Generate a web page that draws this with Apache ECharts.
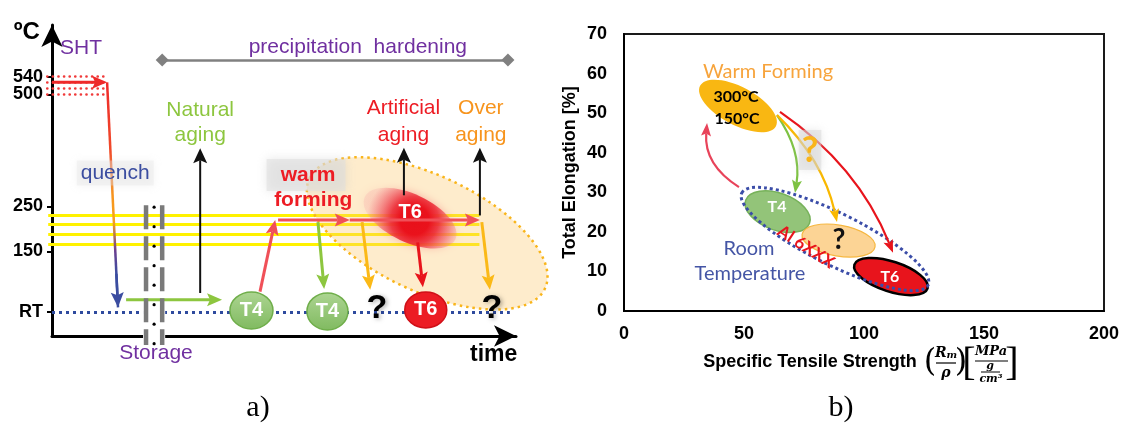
<!DOCTYPE html>
<html>
<head>
<meta charset="utf-8">
<script src="https://cdn.jsdelivr.net/npm/echarts@6.0.0/dist/echarts.min.js"></script>
<style>
html,body{margin:0;padding:0;background:#ffffff;}
#chart{width:1125px;height:425px;}
</style>
</head>
<body>
<div id="chart"></div>
<script>
/* ===================== DATA ===================== */
/* Panel a): schematic heat-treatment route. x = time (arbitrary units), y = temperature (°C) */
const tempTickValues = [15, 150, 250, 500, 540];
const tempTickLabels = ['RT', '150', '250', '500', '540'];
const timeRange = [0, 97.7];
const tempRange = [-39, 655];
const rtTemp = 15;
const rtTime = [0, 96.4];
const shtRows = [540, 527, 513, 500];
const shtTime = [-1, 11.6];
const agingTemps = [165, 188, 210, 231];
const agingTime = [-0.8, 90];
const hardeningTime = [23.2, 96];
const hardeningTemp = 577;
const quenchPath = [11.6, 527, 13.9, 25];
const storageTime = [19.8, 23.2];
const storageTemp = [253, -59];

const leftArrows = [
  {kind: 'sht',     from: [0, 527],     to: [11.6, 527]},
  {kind: 'quench',  from: [13.55, 100], to: [13.9, 25]},
  {kind: 'green',   from: [15.6, 42],   to: [35.8, 42]},
  {kind: 'black',   from: [31.2, 57],   to: [31.2, 380]},
  {kind: 'red',     from: [43.8, 60],   to: [47, 220]},
  {kind: 'red',     from: [47.6, 220],  to: [62.7, 220]},
  {kind: 'red',     from: [62.7, 220],  to: [90.1, 220]},
  {kind: 'green',   from: [56, 215],    to: [57.3, 66]},
  {kind: 'orange',  from: [65.3, 215],  to: [67, 64]},
  {kind: 'deepRed', from: [77, 170],    to: [78.1, 70]},
  {kind: 'orange',  from: [90.5, 215],  to: [92.2, 64]},
  {kind: 'black',   from: [74.1, 275],  to: [74.1, 381]},
  {kind: 'black',   from: [90.1, 230],  to: [90.1, 381]}
];

const leftBackShapes = [
  {name: 'warmWindow', center: [79, 190], axis: [24.8, -123]},
  {name: 't6Blur',     center: [75.4, 224], axis: [9.54, -47.1]}
];
const leftFrontShapes = [
  {name: 't4', center: [42, 18],   axis: [4.53, 0]},
  {name: 't4', center: [58, 15.8], axis: [4.32, 0]},
  {name: 't6', center: [78.7, 19.2], axis: [4.42, 0]}
];

const leftLabels = [
  {text: 'ºC', at: [-5.3, 639], style: 'axisName'},
  {text: 'SHT', at: [6.1, 603.5], style: 'purple'},
  {text: 'precipitation  hardening', at: [64.4, 605.5], style: 'purple'},
  {text: 'Natural', at: [31.2, 465], style: 'green'},
  {text: 'aging', at: [31.2, 409], style: 'green'},
  {text: 'Artificial', at: [74, 469.4], style: 'red'},
  {text: 'aging', at: [74, 409], style: 'red'},
  {text: 'Over', at: [90.3, 469.4], style: 'orange'},
  {text: 'aging', at: [90.3, 409], style: 'orange'},
  {text: 'quench', at: [13.3, 324.5], style: 'blue'},
  {text: 'warm', at: [53.5, 320], style: 'warmBox'},
  {text: 'forming', at: [55, 264.4], style: 'warm'},
  {text: 'T6', at: [75.4, 237], style: 'white'},
  {text: 'T4', at: [42, 18], style: 'white'},
  {text: 'T4', at: [58, 15.8], style: 'white'},
  {text: 'T6', at: [78.7, 19.2], style: 'white'},
  {text: '?', at: [68.4, 21], style: 'question'},
  {text: '?', at: [92.6, 21], style: 'question'},
  {text: 'Storage', at: [21.9, -76.5], style: 'purple'},
  {text: 'time', at: [93, -81], style: 'timeName'}
];

/* Panel b): total elongation vs specific tensile strength */
const strengthRange = [0, 200];
const strengthStep = 50;
const elongationRange = [0, 70];
const elongationStep = 10;

const rightShapes = [
  {name: 'warmForming', center: [47.5, 51.8],  axis: [15.8, -5.1]},
  {name: 't4',          center: [64, 25.1],    axis: [13.3, -2.9]},
  {name: 'unknown',     center: [89.4, 17.8],  axis: [15.2, -1.6]},
  {name: 't6',          center: [111.25, 8.7], axis: [15.25, -3.0]},
  {name: 'al6xxx',      center: [87.9, 18.2],  axis: [38.8, -11.65]}
];
const rightArrows = [
  {kind: 'pink',   from: [47.9, 31.3],  to: [34.6, 47.5]},
  {kind: 'green',  from: [63.75, 49.5], to: [71.25, 29.8]},
  {kind: 'orange', from: [63.75, 49.5], to: [88.75, 22.5]},
  {kind: 'red',    from: [65, 50.3],    to: [112.1, 14.7]}
];
const rightLabels = [
  {text: 'Warm Forming', at: [60, 60.4], style: 'warmLabel'},
  {text: '300°C', at: [46.7, 54.1], style: 'tempLabel'},
  {text: '150°C', at: [47.1, 48.5], style: 'tempLabel'},
  {text: 'T4', at: [63.75, 26.3], style: 'tag'},
  {text: '?', at: [89.6, 17.9], style: 'q'},
  {text: 'T6', at: [110.8, 8.6], style: 'tag'},
  {text: 'Room', at: [52.1, 15.9], style: 'room'},
  {text: 'Temperature', at: [52.5, 9.4], style: 'room'},
  {text: 'Al 6XXX', at: [75.8, 16.2], style: 'alloy'},
  {text: '?', at: [77.5, 40.7], style: 'qOrange'}
];

/* ===================== STYLES ===================== */
const SANS = '"Liberation Sans", Arial, sans-serif';
const CAL = 'Lato, "Liberation Sans", sans-serif';
const G = echarts.graphic;

const leftArrowStyles = {
  sht:     {color: '#ee2a2a', width: 3,   head: [13, 15]},
  quench:  {color: '#3b4da0', width: 2.5, head: [13, 15]},
  green:   {color: '#8dc63f', width: 3,   head: [13, 15]},
  black:   {color: '#111111', width: 2,   head: [14, 15]},
  red:     {color: '#f05058', width: 3,   head: [13, 15]},
  orange:  {color: '#fbb917', width: 3,   head: [13, 15]},
  deepRed: {color: '#e8141c', width: 3,   head: [13, 15]}
};
const rightArrowStyles = {
  pink:   {color: '#e8435a', width: 2.2, head: [10, 13], bend: 0.3},
  green:  {color: '#7dc242', width: 2.2, head: [10, 13], bend: 0.2},
  orange: {color: '#f9b800', width: 2.2, head: [10, 13], bend: 0.15},
  red:    {color: '#e8141c', width: 2.2, head: [10, 13], bend: 0.15}
};
const leftShapeStyles = {
  warmWindow: {ry: 58, style: {fill: 'rgba(251,200,110,0.35)', stroke: '#f9b51b', lineWidth: 2.5, lineDash: [2.5, 4]}},
  t6Blur: {ry: 24, style: {
    fill: new G.RadialGradient(0.55, 0.5, 1, [
      {offset: 0, color: '#e8101a'}, {offset: 0.3, color: '#ea121c'},
      {offset: 0.5, color: 'rgba(236,40,52,0.85)'}, {offset: 1, color: 'rgba(245,150,160,0.2)'}]),
    shadowBlur: 10, shadowColor: 'rgba(240,80,90,0.5)'}},
  t4: {ry: 18.5, style: {
    fill: new G.LinearGradient(0, 0, 0, 1, [{offset: 0, color: '#add592'}, {offset: 1, color: '#80ba60'}]),
    stroke: '#6fae4a', lineWidth: 1.5}},
  t6: {ry: 18, style: {fill: '#ec1c24', stroke: '#d01018', lineWidth: 1.5}}
};
const rightShapeStyles = {
  warmForming: {ry: 19, style: {fill: '#f9b712'}},
  t4: {ry: 18.5, style: {fill: 'rgba(128,186,98,0.85)', stroke: '#77b25a', lineWidth: 1.5}},
  unknown: {ry: 15.5, style: {fill: 'rgba(251,205,130,0.85)', stroke: '#f6b740', lineWidth: 1.2}},
  t6: {ry: 15, style: {fill: '#e8141c', stroke: '#000000', lineWidth: 2.5}},
  al6xxx: {ry: 26, style: {fill: 'none', stroke: '#3b4da8', lineWidth: 3, lineDash: [3, 3]}}
};
const leftTextStyles = {
  axisName: {text: {font: 'bold 24px ' + SANS, fill: '#000'}},
  timeName: {text: {font: 'bold 23px ' + SANS, fill: '#000'}},
  purple: {text: {font: '21px ' + SANS, fill: '#7030a0'}},
  green: {text: {font: '21px ' + SANS, fill: '#8dc63f'}},
  red: {text: {font: '21px ' + SANS, fill: '#ed1c24'}},
  orange: {text: {font: '21px ' + SANS, fill: '#f7941d'}},
  blue: {text: {font: '21px ' + SANS, fill: '#3b4da0', backgroundColor: 'rgba(228,228,228,0.35)',
    padding: [2, 4], shadowBlur: 8, shadowColor: 'rgba(200,200,200,0.6)'}},
  warmBox: {text: {font: 'bold 21px ' + SANS, fill: '#ed1c24', backgroundColor: 'rgba(222,222,222,0.55)',
    padding: [3, 10, 8, 14], shadowBlur: 10, shadowColor: 'rgba(200,200,200,0.8)'}},
  warm: {text: {font: 'bold 21px ' + SANS, fill: '#ed1c24'}},
  white: {text: {font: 'bold 20px ' + SANS, fill: '#ffffff'}},
  question: {text: {font: 'bold 34px ' + SANS, fill: '#000', textShadowColor: 'rgba(0,0,0,0.3)',
    textShadowBlur: 4, textShadowOffsetX: 2, textShadowOffsetY: 1}}
};
const rightTextStyles = {
  warmLabel: {text: {font: '20px ' + CAL, fill: '#f7a43c'}},
  tempLabel: {text: {font: 'bold 16px ' + CAL, fill: '#000'}},
  tag: {text: {font: 'bold 16px ' + CAL, fill: '#ffffff'}},
  q: {text: {font: 'bold 28px ' + CAL, fill: '#111'}},
  room: {text: {font: '20px ' + CAL, fill: '#4455a5'}},
  alloy: {rotate: -33, text: {font: 'bold 17px ' + CAL, fill: '#e8141c'}},
  qOrange: {text: {font: 'bold 36px ' + CAL, fill: '#f9b51b', backgroundColor: 'rgba(215,215,215,0.5)',
    padding: [2, 3], shadowBlur: 8, shadowColor: 'rgba(190,190,190,0.6)'}}
};

/* ===================== RENDERERS ===================== */
function arrowGroup(p1, p2, s) {
  const bend = s.bend || 0;
  let cp = null, dx, dy;
  if (bend) {
    cp = [(p1[0] + p2[0]) / 2 - (p1[1] - p2[1]) * bend, (p1[1] + p2[1]) / 2 - (p2[0] - p1[0]) * bend];
    dx = p2[0] - cp[0]; dy = p2[1] - cp[1];
  } else { dx = p2[0] - p1[0]; dy = p2[1] - p1[1]; }
  const len = Math.hypot(dx, dy) || 1;
  const ux = dx / len, uy = dy / len, nx = -uy, ny = ux;
  const L = s.head[1], W = s.head[0] / 2;
  const bx = p2[0] - ux * L, by = p2[1] - uy * L;
  const mx = p2[0] - ux * L * 0.8, my = p2[1] - uy * L * 0.8;
  const head = {type: 'polygon', shape: {points: [[p2[0], p2[1]], [bx + nx * W, by + ny * W], [mx, my], [bx - nx * W, by - ny * W]]},
    style: {fill: s.color}};
  const body = bend
    ? {type: 'bezierCurve', shape: {x1: p1[0], y1: p1[1], x2: mx, y2: my, cpx1: cp[0], cpy1: cp[1]},
       style: {stroke: s.color, lineWidth: s.width, fill: 'none'}}
    : {type: 'line', shape: {x1: p1[0], y1: p1[1], x2: mx, y2: my}, style: {stroke: s.color, lineWidth: s.width, fill: 'none'}};
  return {type: 'group', children: [body, head]};
}
function arrowRenderer(list, styles) {
  return function (params, api) {
    const s = styles[list[params.dataIndex].kind];
    const p1 = api.coord([api.value(0), api.value(1)]);
    const p2 = api.coord([api.value(2), api.value(3)]);
    return arrowGroup(p1, p2, s);
  };
}
function shapeRenderer(list, styles) {
  return function (params, api) {
    const s = styles[list[params.dataIndex].name];
    const c = api.coord([api.value(0), api.value(1)]);
    const e = api.coord([api.value(0) + api.value(2), api.value(1) + api.value(3)]);
    const dx = e[0] - c[0], dy = e[1] - c[1];
    return {type: 'ellipse', x: c[0], y: c[1], rotation: Math.atan2(-dy, dx),
      shape: {cx: 0, cy: 0, rx: Math.hypot(dx, dy), ry: s.ry}, style: s.style};
  };
}
function labelRenderer(list, styles) {
  return function (params, api) {
    const it = list[params.dataIndex];
    const s = styles[it.style];
    const p = api.coord([api.value(0), api.value(1)]);
    return {type: 'text', x: p[0], y: p[1], rotation: (s.rotate || 0) * Math.PI / 180,
      style: Object.assign({text: it.text, align: 'center', verticalAlign: 'middle'}, s.text)};
  };
}
const arrowData = list => list.map(a => [a.from[0], a.from[1], a.to[0], a.to[1]]);
const shapeData = list => list.map(b => [b.center[0], b.center[1], b.axis[0], b.axis[1]]);
const labelData = list => list.map(l => [l.at[0], l.at[1]]);
const L0 = {coordinateSystem: 'cartesian2d', xAxisIndex: 0, yAxisIndex: 0, silent: true, clip: false};
const R1 = {coordinateSystem: 'cartesian2d', xAxisIndex: 1, yAxisIndex: 1, silent: true, clip: false};

/* ===================== OPTION ===================== */
const option = {
  animation: false,
  backgroundColor: '#ffffff',
  grid: [
    {left: 52, top: 25, width: 464, height: 311, show: false},
    {left: 624, top: 34, width: 480, height: 277, show: true, borderColor: '#1a1a1a', borderWidth: 2}
  ],
  xAxis: [
    {gridIndex: 0, type: 'value', min: timeRange[0], max: timeRange[1],
      axisLine: {show: true, onZero: false, symbol: ['none', 'arrow'], symbolSize: [16, 22], lineStyle: {color: '#000', width: 3}},
      axisTick: {show: false}, axisLabel: {show: false}, splitLine: {show: false}},
    {gridIndex: 1, type: 'value', min: strengthRange[0], max: strengthRange[1], interval: strengthStep,
      axisLine: {show: true, onZero: false, lineStyle: {color: '#000', width: 2}},
      axisTick: {show: false}, splitLine: {show: false},
      axisLabel: {color: '#000', fontWeight: 'bold', fontSize: 18, fontFamily: SANS, margin: 14},
      name: 'Specific Tensile Strength', nameLocation: 'middle', nameGap: 42,
      nameTextStyle: {color: '#000', fontWeight: 'bold', fontSize: 18, fontFamily: SANS, padding: [0, 108, 0, 0]}}
  ],
  yAxis: [
    {gridIndex: 0, type: 'value', min: tempRange[0], max: tempRange[1],
      axisLine: {show: true, onZero: false, symbol: ['none', 'arrow'], symbolSize: [16, 22], lineStyle: {color: '#000', width: 3}},
      axisTick: {show: true, customValues: tempTickValues, length: 5, lineStyle: {color: '#000', width: 2}},
      axisLabel: {customValues: tempTickValues, formatter: v => { const i = tempTickValues.indexOf(v); return i < 0 ? '' : tempTickLabels[i]; },
        color: '#000', fontWeight: 'bold', fontSize: 18, fontFamily: SANS, margin: 9},
      splitLine: {show: false}},
    {gridIndex: 1, type: 'value', min: elongationRange[0], max: elongationRange[1], interval: elongationStep,
      axisLine: {show: true, onZero: false, lineStyle: {color: '#000', width: 2}},
      axisTick: {show: false}, splitLine: {show: false},
      axisLabel: {color: '#000', fontWeight: 'bold', fontSize: 18, fontFamily: SANS, margin: 17},
      name: 'Total Elongation [%]', nameLocation: 'middle', nameRotate: 90, nameGap: 45,
      nameTextStyle: {color: '#000', fontWeight: 'bold', fontSize: 18, fontFamily: SANS}}
  ],
  series: [
    /* ---------- panel a ---------- */
    Object.assign({type: 'lines', z: 1, lineStyle: {color: '#fff200', width: 3, opacity: 1},
      data: agingTemps.map(T => ({coords: [[agingTime[0], T], [agingTime[1], T]]}))}, L0),
    Object.assign({type: 'lines', z: 1, lineStyle: {color: '#f03a3a', width: 2.6, type: [0.1, 5.5], cap: 'round', opacity: 1},
      data: shtRows.map(T => ({coords: [[shtTime[0], T], [shtTime[1], T]]}))}, L0),
    Object.assign({type: 'lines', z: 1, lineStyle: {color: '#2e4a9e', width: 3, type: [3, 4], opacity: 1},
      data: [{coords: [[rtTime[0], rtTemp], [rtTime[1], rtTemp]]}]}, L0),
    Object.assign({type: 'lines', z: 1, symbol: ['diamond', 'diamond'], symbolSize: 13,
      lineStyle: {color: '#808080', width: 2.5, opacity: 1},
      data: [{coords: [[hardeningTime[0], hardeningTemp], [hardeningTime[1], hardeningTemp]]}]}, L0),
    Object.assign({type: 'custom', z: 2, data: shapeData(leftBackShapes),
      renderItem: shapeRenderer(leftBackShapes, leftShapeStyles)}, L0),
    Object.assign({type: 'custom', z: 3, data: [quenchPath],
      renderItem: function (params, api) {
        const p1 = api.coord([api.value(0), api.value(1)]);
        const p2 = api.coord([api.value(2), api.value(3)]);
        return {type: 'line', shape: {x1: p1[0], y1: p1[1], x2: p2[0], y2: p2[1]},
          style: {lineWidth: 2.5, fill: 'none', stroke: new G.LinearGradient(p1[0], p1[1], p2[0], p2[1], [
            {offset: 0, color: '#ee2a2a'}, {offset: 0.3, color: '#f04a2a'}, {offset: 0.5, color: '#f7941d'},
            {offset: 0.62, color: '#f7a21d'}, {offset: 0.75, color: '#6a3f90'}, {offset: 0.85, color: '#3b4da0'},
            {offset: 1, color: '#3b4da0'}], true)}};
      }}, L0),
    Object.assign({type: 'custom', z: 4, data: arrowData(leftArrows),
      renderItem: arrowRenderer(leftArrows, leftArrowStyles)}, L0),
    Object.assign({type: 'custom', z: 5, data: [[storageTime[0], storageTime[1], storageTemp[0], storageTemp[1]]],
      renderItem: function (params, api) {
        const a = api.coord([api.value(0), api.value(2)]);
        const b = api.coord([api.value(1), api.value(3)]);
        const rtY = api.coord([0, rtTemp])[1];
        const cs = params.coordSys;
        const bottom = cs.y + cs.height;
        const ch = [
          {type: 'rect', shape: {x: a[0] - 3, y: rtY - 4, width: b[0] - a[0] + 6, height: 8}, style: {fill: '#fff'}},
          {type: 'rect', shape: {x: a[0] - 3, y: bottom - 3, width: b[0] - a[0] + 6, height: 6}, style: {fill: '#fff'}},
          {type: 'line', shape: {x1: a[0], y1: a[1], x2: a[0], y2: b[1]}, style: {stroke: '#7a7a7a', lineWidth: 4.5, lineDash: [24, 7]}},
          {type: 'line', shape: {x1: b[0], y1: a[1], x2: b[0], y2: b[1]}, style: {stroke: '#7a7a7a', lineWidth: 4.5, lineDash: [24, 7]}}
        ];
        const mid = (a[0] + b[0]) / 2;
        for (let y = a[1] + 2; y <= b[1]; y += 19.5) {
          ch.push({type: 'circle', shape: {cx: mid, cy: y, r: 1.6}, style: {fill: '#000'}});
        }
        return {type: 'group', children: ch};
      }}, L0),
    Object.assign({type: 'custom', z: 6, data: shapeData(leftFrontShapes),
      renderItem: shapeRenderer(leftFrontShapes, leftShapeStyles)}, L0),
    Object.assign({type: 'custom', z: 7, data: labelData(leftLabels),
      renderItem: labelRenderer(leftLabels, leftTextStyles)}, L0),
    /* ---------- panel b ---------- */
    Object.assign({type: 'custom', z: 2, data: shapeData(rightShapes),
      renderItem: shapeRenderer(rightShapes, rightShapeStyles)}, R1),
    Object.assign({type: 'custom', z: 3, data: arrowData(rightArrows),
      renderItem: arrowRenderer(rightArrows, rightArrowStyles)}, R1),
    Object.assign({type: 'custom', z: 4, data: labelData(rightLabels),
      renderItem: labelRenderer(rightLabels, rightTextStyles)}, R1)
  ],
  graphic: [
    {type: 'text', x: 258, y: 408, style: {text: 'a)', font: '30px "Liberation Serif", serif', fill: '#000', align: 'center', verticalAlign: 'middle'}},
    {type: 'text', x: 841, y: 408, style: {text: 'b)', font: '30px "Liberation Serif", serif', fill: '#000', align: 'center', verticalAlign: 'middle'}},
    /* units of the x axis name: (Rm / ρ) [MPa / (g / cm³)] */
    {type: 'text', x: 930, y: 363, style: {text: '(', font: '32px "DejaVu Serif", serif', fill: '#000', align: 'center', verticalAlign: 'middle'}},
    {type: 'text', x: 946, y: 353, style: {text: '{r|R}{s|m}', align: 'center', verticalAlign: 'middle',
      rich: {r: {font: 'italic bold 14px "DejaVu Serif", serif', fill: '#000'}, s: {font: 'italic bold 10px "DejaVu Serif", serif', fill: '#000', verticalAlign: 'bottom'}}}},
    {type: 'line', shape: {x1: 936, y1: 363, x2: 956, y2: 363}, style: {stroke: '#000', lineWidth: 1.2}},
    {type: 'text', x: 946, y: 373, style: {text: 'ρ', font: 'italic bold 14px "DejaVu Serif", serif', fill: '#000', align: 'center', verticalAlign: 'middle'}},
    {type: 'text', x: 961, y: 363, style: {text: ')', font: '32px "DejaVu Serif", serif', fill: '#000', align: 'center', verticalAlign: 'middle'}},
    {type: 'text', x: 969, y: 364, style: {text: '[', font: '40px "Liberation Serif", serif', fill: '#000', align: 'center', verticalAlign: 'middle'}},
    {type: 'text', x: 991, y: 352, style: {text: 'MPa', font: 'italic bold 13px "DejaVu Serif", serif', fill: '#000', align: 'center', verticalAlign: 'middle'}},
    {type: 'line', shape: {x1: 975, y1: 361, x2: 1008, y2: 361}, style: {stroke: '#000', lineWidth: 1.2}},
    {type: 'text', x: 990, y: 366, style: {text: 'g', font: 'italic bold 11px "DejaVu Serif", serif', fill: '#000', align: 'center', verticalAlign: 'middle'}},
    {type: 'line', shape: {x1: 981, y1: 372, x2: 1000, y2: 372}, style: {stroke: '#000', lineWidth: 1}},
    {type: 'text', x: 991, y: 379, style: {text: 'cm³', font: 'italic bold 11px "DejaVu Serif", serif', fill: '#000', align: 'center', verticalAlign: 'middle'}},
    {type: 'text', x: 1012, y: 364, style: {text: ']', font: '40px "Liberation Serif", serif', fill: '#000', align: 'center', verticalAlign: 'middle'}}
  ]
};

const chart = echarts.init(document.getElementById('chart'), null, {renderer: 'canvas'});
chart.setOption(option);
</script>
</body>
</html>
